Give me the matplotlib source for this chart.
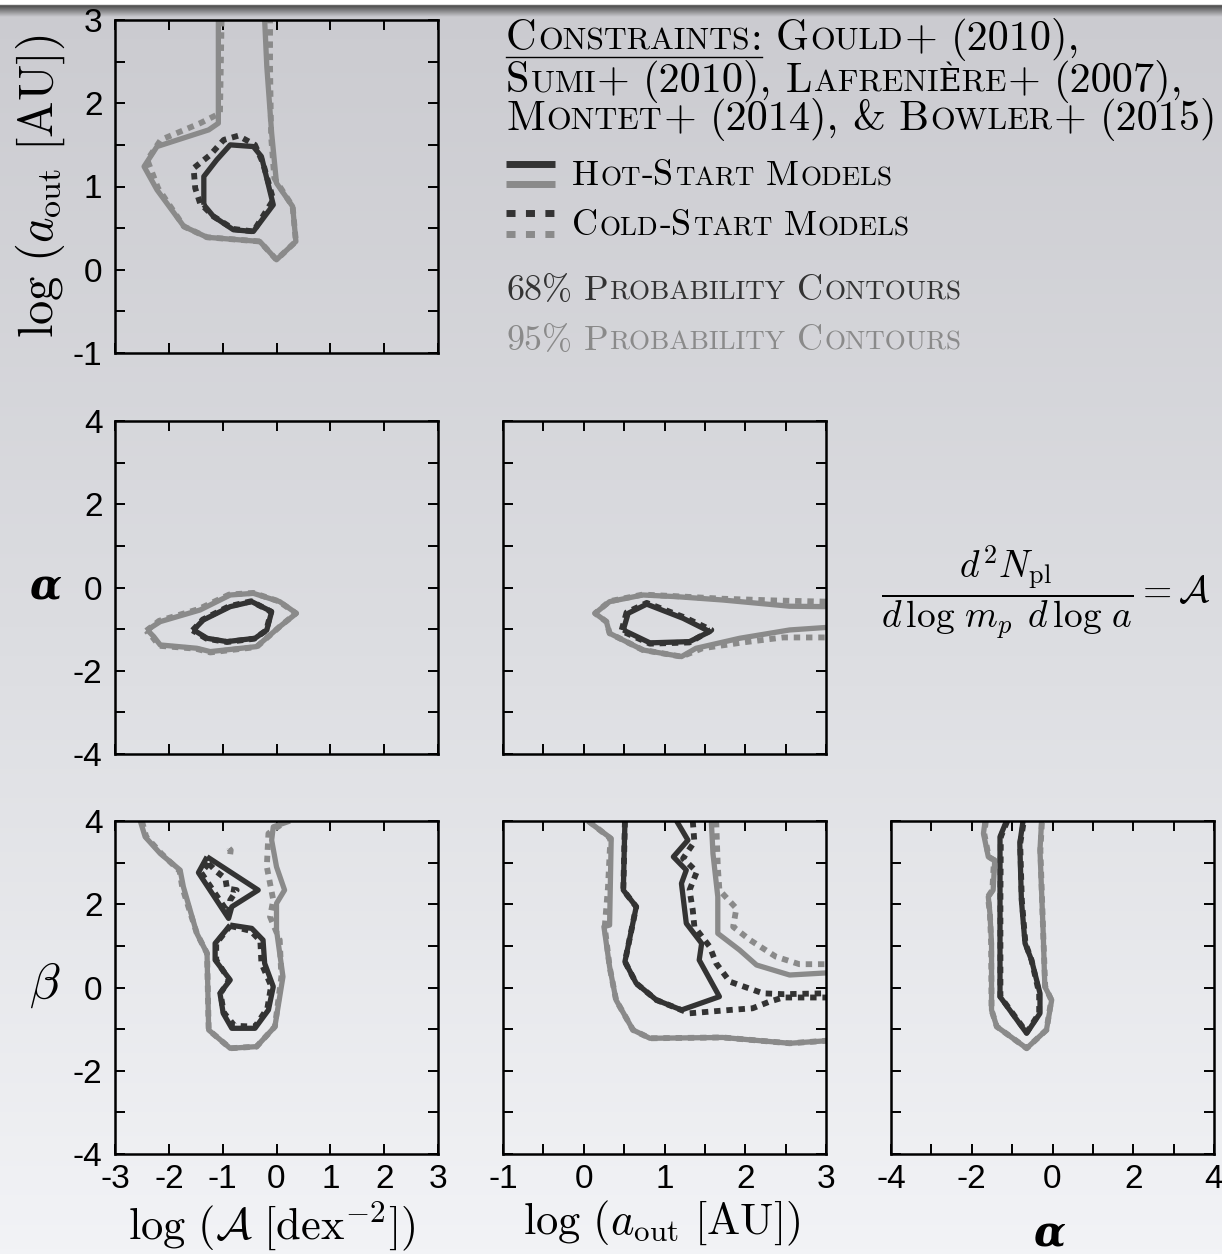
import numpy as np
import matplotlib
matplotlib.use("Agg")
import matplotlib.pyplot as plt
from matplotlib.colors import LinearSegmentedColormap

plt.rcParams.update({
    "font.family": ["Liberation Sans", "DejaVu Sans"],
    "mathtext.fontset": "cm",
    "axes.linewidth": 1.8,
    "xtick.direction": "in",
    "ytick.direction": "in",
    "xtick.top": True,
    "ytick.right": True,
    "xtick.major.size": 7,
    "ytick.major.size": 7,
    "xtick.major.width": 1.4,
    "ytick.major.width": 1.4,
    "xtick.major.pad": 7,
    "ytick.major.pad": 9,
    "xtick.labelsize": 24,
    "ytick.labelsize": 24,
})

W, H = 1222, 1254
DARK = "#333333"
GRAY = "#8a8a8a"
SERIF = ["cmr10", "DejaVu Serif"]

# ---- contour data ----
# log A vs log a_out
AAOUT_HOT95_X = [-1.08, -1.08, -1.26, -2.22, -2.46, -2.22, -1.72, -1.29, -0.31, 0.00, 0.36, 0.30, 0.00, -0.09, -0.18, -0.22]
AAOUT_HOT95_Y = [3.00, 1.76, 1.68, 1.48, 1.24, 0.96, 0.52, 0.39, 0.34, 0.12, 0.34, 0.76, 1.04, 1.64, 2.44, 3.00]
AAOUT_COLD95_X = [-1.02, -1.05, -1.42, -2.15, -2.40, -2.20, -1.72, -1.29, -0.31, 0.00, 0.36, 0.30, -0.04, -0.10, -0.12, -0.12]
AAOUT_COLD95_Y = [3.00, 1.88, 1.76, 1.56, 1.32, 0.98, 0.52, 0.39, 0.34, 0.12, 0.34, 0.76, 1.10, 1.60, 2.44, 3.00]
AAOUT_HOT68_X = [-1.35, -1.17, -0.80, -0.43, -0.06, -0.28, -0.43, -0.86, -1.11, -1.35, -1.35]
AAOUT_HOT68_Y = [0.78, 0.64, 0.48, 0.46, 0.78, 1.36, 1.48, 1.50, 1.32, 1.12, 0.78]
AAOUT_COLD68_X = [-1.42, -1.51, -1.54, -1.23, -0.98, -0.71, -0.40, -0.25, -0.06, -0.43, -0.80, -1.17, -1.42]
AAOUT_COLD68_Y = [0.80, 0.98, 1.22, 1.38, 1.56, 1.61, 1.50, 1.28, 0.84, 0.46, 0.49, 0.64, 0.80]

# log A vs alpha
AALPHA_HOT95_X = [-2.40, -2.16, -1.42, -0.86, -0.43, 0.06, 0.37, 0.06, -0.37, -1.23, -1.48, -2.16, -2.28, -2.40]
AALPHA_HOT95_Y = [-1.02, -0.82, -0.54, -0.18, -0.14, -0.34, -0.62, -0.94, -1.42, -1.54, -1.46, -1.38, -1.18, -1.02]
AALPHA_COLD95_X = [-2.42, -2.18, -1.45, -0.88, -0.43, 0.04, 0.36, 0.06, -0.37, -1.23, -1.50, -2.18, -2.30, -2.42]
AALPHA_COLD95_Y = [-1.04, -0.80, -0.52, -0.17, -0.13, -0.33, -0.62, -0.94, -1.43, -1.56, -1.47, -1.40, -1.20, -1.04]
AALPHA_HOT68_X = [-1.54, -1.36, -0.86, -0.46, -0.09, -0.18, -0.40, -0.92, -1.29, -1.54]
AALPHA_HOT68_Y = [-1.02, -0.78, -0.46, -0.34, -0.58, -1.02, -1.22, -1.30, -1.22, -1.02]
AALPHA_COLD68_X = [-1.56, -1.37, -0.88, -0.47, -0.10, -0.19, -0.41, -0.92, -1.30, -1.56]
AALPHA_COLD68_Y = [-1.03, -0.77, -0.45, -0.33, -0.58, -1.03, -1.23, -1.31, -1.23, -1.03]

# log a_out vs alpha
OALPHA_HOT95_X = [3.00, 2.55, 1.72, 1.15, 0.73, 0.32, 0.14, 0.28, 0.32, 0.73, 1.21, 1.39, 1.93, 2.55, 3.00]
OALPHA_HOT95_Y = [-0.46, -0.45, -0.30, -0.22, -0.18, -0.34, -0.62, -0.82, -1.10, -1.50, -1.66, -1.46, -1.22, -1.02, -0.96]
OALPHA_COLD95_X = [3.00, 2.34, 1.72, 1.15, 0.73, 0.32, 0.14, 0.28, 0.32, 0.73, 1.21, 1.47, 1.97, 2.47, 3.00]
OALPHA_COLD95_Y = [-0.34, -0.31, -0.27, -0.21, -0.17, -0.33, -0.62, -0.82, -1.10, -1.50, -1.66, -1.46, -1.32, -1.20, -1.20]
OALPHA_HOT68_X = [0.49, 0.55, 0.78, 1.23, 1.56, 1.31, 0.82, 0.53, 0.49]
OALPHA_HOT68_Y = [-1.02, -0.62, -0.40, -0.74, -1.06, -1.30, -1.33, -1.06, -1.02]
OALPHA_COLD68_X = [0.47, 0.53, 0.78, 1.25, 1.58, 1.31, 0.82, 0.51, 0.47]
OALPHA_COLD68_Y = [-1.02, -0.60, -0.37, -0.72, -1.02, -1.32, -1.35, -1.08, -1.02]

# log A vs beta
ABETA_HOT95_X = [-2.53, -2.44, -2.16, -1.79, -1.73, -1.48, -1.29, -1.26, -0.86, -0.37, -0.03, 0.12, 0.00, 0.00, 0.15, 0.00, -0.09, -0.06, 0.25]
ABETA_HOT95_Y = [4.00, 3.62, 3.22, 2.82, 2.42, 1.30, 0.82, -1.02, -1.46, -1.42, -0.94, 0.26, 1.38, 2.02, 2.34, 2.90, 3.54, 3.86, 4.00]
ABETA_COLD95_X = [-2.50, -2.42, -2.14, -1.80, -1.75, -1.48, -1.29, -1.26, -0.86, -0.37, -0.03, 0.09, 0.06, -0.12, -0.06, -0.18, -0.15, 0.18]
ABETA_COLD95_Y = [4.00, 3.62, 3.22, 2.80, 2.40, 1.30, 0.82, -1.02, -1.46, -1.42, -0.94, 0.26, 1.14, 1.70, 2.10, 2.90, 3.70, 4.00]
ABETA_COLD95B_X = [-0.88, -0.85, -0.86, -0.88]
ABETA_COLD95B_Y = [3.34, 3.30, 3.20, 3.34]
ABETA_HOT68A_X = [-1.29, -1.45, -0.89, -0.83, -0.34, -1.29]
ABETA_HOT68A_Y = [3.14, 2.76, 1.66, 1.94, 2.34, 3.14]
ABETA_HOT68B_X = [-0.86, -0.46, -0.25, -0.22, -0.06, -0.15, -0.40, -0.83, -0.99, -1.05, -0.86, -1.14, -1.14, -0.86]
ABETA_HOT68B_Y = [1.50, 1.42, 1.14, 0.58, 0.02, -0.54, -0.98, -0.98, -0.62, -0.14, 0.18, 0.66, 1.06, 1.50]
ABETA_COLD68A_X = [-1.26, -1.11, -0.95, -0.92, -0.74, -0.86, -0.89, -1.40, -1.26]
ABETA_COLD68A_Y = [2.98, 2.78, 2.62, 2.38, 2.34, 2.10, 1.78, 2.76, 2.98]
ABETA_COLD68B_X = [-0.86, -0.48, -0.30, -0.28, -0.10, -0.17, -0.40, -0.78, -0.98, -1.04, -0.88, -1.12, -1.12, -0.86]
ABETA_COLD68B_Y = [1.48, 1.36, 1.12, 0.58, 0.04, -0.50, -0.94, -0.92, -0.60, -0.14, 0.18, 0.66, 1.06, 1.48]

# log a_out vs beta
OBETA_HOT95A_X = [0.05, 0.34, 0.32, 0.25, 0.32, 0.40, 0.61, 0.82, 1.72, 2.55, 3.00]
OBETA_HOT95A_Y = [4.00, 3.58, 1.50, 1.46, 0.50, -0.30, -1.02, -1.22, -1.20, -1.34, -1.28]
OBETA_HOT95B_X = [1.58, 1.60, 1.66, 1.66, 1.93, 2.14, 2.55, 3.00]
OBETA_HOT95B_Y = [4.00, 3.22, 2.18, 1.30, 0.90, 0.54, 0.30, 0.35]
OBETA_COLD95A_X = [0.06, 0.33, 0.30, 0.26, 0.32, 0.40, 0.61, 0.82, 1.72, 2.55, 3.00]
OBETA_COLD95A_Y = [4.00, 3.58, 2.40, 1.46, 0.50, -0.30, -1.02, -1.22, -1.20, -1.34, -1.28]
OBETA_COLD95B_X = [1.64, 1.66, 1.68, 1.89, 1.85, 2.06, 2.38, 2.67, 3.00]
OBETA_COLD95B_Y = [4.00, 2.90, 2.34, 1.90, 1.46, 1.14, 0.74, 0.56, 0.56]
OBETA_HOT68_X = [0.51, 0.49, 0.65, 0.51, 0.65, 0.90, 1.21, 1.68, 1.43, 1.46, 1.27, 1.21, 1.27, 1.11, 1.29, 1.15]
OBETA_HOT68_Y = [4.00, 2.34, 1.94, 0.62, 0.10, -0.30, -0.54, -0.22, 0.66, 1.06, 1.54, 2.50, 2.82, 3.14, 3.54, 4.00]
OBETA_COLD68A_X = [1.35, 1.37, 1.23, 1.40, 1.31, 1.35, 1.37, 1.56, 1.64, 1.81, 2.22, 2.47, 3.00]
OBETA_COLD68A_Y = [4.00, 3.50, 3.10, 2.78, 2.34, 1.86, 1.46, 0.98, 0.58, 0.14, -0.14, -0.16, -0.14]
OBETA_COLD68B_X = [0.51, 0.49, 0.65, 0.51, 0.65, 0.90, 1.31, 1.81, 2.09, 2.30, 2.47, 3.00]
OBETA_COLD68B_Y = [4.00, 2.34, 1.94, 0.62, 0.10, -0.30, -0.62, -0.54, -0.50, -0.34, -0.24, -0.24]

# alpha vs beta
ALBETA_HOT95_X = [-1.67, -1.71, -1.59, -1.43, -1.47, -1.59, -1.55, -1.51, -1.51, -1.38, -0.64, -0.15, -0.02, -0.19, -0.23, -0.31, -0.27]
ALBETA_HOT95_Y = [4.00, 3.70, 3.14, 3.06, 2.34, 2.18, 1.78, 1.06, -0.54, -0.94, -1.46, -1.02, -0.30, 0.02, 1.30, 3.30, 4.00]
ALBETA_COLD95_X = [-1.65, -1.69, -1.58, -1.45, -1.49, -1.60, -1.55, -1.52, -1.51, -1.38, -0.64, -0.15, -0.03, -0.18, -0.23, -0.30, -0.26]
ALBETA_COLD95_Y = [4.00, 3.70, 3.14, 3.06, 2.34, 2.18, 1.78, 1.06, -0.54, -0.94, -1.46, -1.02, -0.30, 0.02, 1.30, 3.30, 4.00]
ALBETA_HOT68_X = [-1.14, -1.30, -1.30, -1.30, -0.64, -0.31, -0.31, -0.52, -0.68, -0.77, -0.81, -0.73]
ALBETA_HOT68_Y = [4.00, 3.62, 2.10, -0.22, -1.10, -0.62, -0.14, 0.66, 1.06, 2.10, 3.46, 4.00]
ALBETA_COLD68_X = [-1.12, -1.28, -1.29, -1.29, -0.64, -0.33, -0.33, -0.52, -0.67, -0.76, -0.80, -0.71]
ALBETA_COLD68_Y = [4.00, 3.62, 2.10, -0.22, -1.08, -0.62, -0.14, 0.66, 1.06, 2.10, 3.46, 4.00]

# ---- layout (pixels) ----
PW, PH = 323, 333
COLS = [115, 503, 891]
ROWS = [20, 421, 821]

fig = plt.figure(figsize=(W / 100, H / 100), dpi=100)

# background gradient
bg = fig.add_axes([0, 0, 1, 1], zorder=-10)
bg_cmap = LinearSegmentedColormap.from_list("bg", ["#cbcbd0", "#dcdde1", "#f2f3f6"])
bg.imshow(np.linspace(0, 1, 256)[:, None], aspect="auto", cmap=bg_cmap, extent=[0, 1, 0, 1])
bg.axis("off")
band = fig.add_axes([0, 1 - 17 / H, 1, 17 / H], zorder=-9)
band_cmap = LinearSegmentedColormap.from_list(
    "band", [(0, "#ffffff"), (0.26, "#ffffff"), (0.32, "#4a4a4a"), (1, "#cbcbd0")])
band.imshow(np.linspace(0, 1, 64)[:, None], aspect="auto", cmap=band_cmap, extent=[0, 1, 0, 1])
band.axis("off")

ALPHA_KW = dict(family=["DejaVu Serif"], fontweight="bold", fontstyle="italic", fontsize=30)


def tick_labels(ticks, every, show):
    if not show:
        return [""] * len(ticks)
    return [f"{v:g}" if v % every == 0 else "" for v in ticks]


def panel(col, row, xlim, ylim, xstep, ystep, xevery, yevery):
    l, t = COLS[col], ROWS[row]
    ax = fig.add_axes([l / W, 1 - (t + PH) / H, PW / W, PH / H])
    ax.patch.set_alpha(0)
    xt = np.arange(xlim[0], xlim[1] + 1e-9, xstep)
    yt = np.arange(ylim[0], ylim[1] + 1e-9, ystep)
    ax.set_xticks(xt)
    ax.set_yticks(yt)
    ax.set_xticklabels(tick_labels(xt, xevery, row == 2))
    ax.set_yticklabels(tick_labels(yt, yevery, col == 0))
    ax.set_xlim(xlim)
    ax.set_ylim(ylim)
    return ax


def draw(ax, x, y, color, dotted=False):
    if dotted:
        ax.plot(x, y, color=color, lw=4.2, ls=(0, (1.1, 1.0)), dash_capstyle="butt")
    else:
        ax.plot(x, y, color=color, lw=3.8, solid_joinstyle="round", solid_capstyle="butt")


ax_tl = panel(0, 0, (-3, 3), (-1, 3), 1, 0.5, 1, 1)
draw(ax_tl, AAOUT_COLD95_X, AAOUT_COLD95_Y, GRAY, True)
draw(ax_tl, AAOUT_HOT95_X, AAOUT_HOT95_Y, GRAY)
draw(ax_tl, AAOUT_COLD68_X, AAOUT_COLD68_Y, DARK, True)
draw(ax_tl, AAOUT_HOT68_X, AAOUT_HOT68_Y, DARK)
ax_tl.set_ylabel(r"$\log\,(a_{\rm out}\ [\rm AU])$", fontsize=35)
ax_tl.yaxis.set_label_coords(-0.15, 0.5)

ax_ml = panel(0, 1, (-3, 3), (-4, 4), 1, 1, 1, 2)
draw(ax_ml, AALPHA_COLD95_X, AALPHA_COLD95_Y, GRAY, True)
draw(ax_ml, AALPHA_HOT95_X, AALPHA_HOT95_Y, GRAY)
draw(ax_ml, AALPHA_COLD68_X, AALPHA_COLD68_Y, DARK, True)
draw(ax_ml, AALPHA_HOT68_X, AALPHA_HOT68_Y, DARK)
ax_ml.set_ylabel("α", rotation=0, ha="center", va="center", **ALPHA_KW)
ax_ml.yaxis.set_label_coords(-0.217, 0.5)

ax_mm = panel(1, 1, (-1, 3), (-4, 4), 0.5, 1, 1, 2)
draw(ax_mm, OALPHA_COLD95_X, OALPHA_COLD95_Y, GRAY, True)
draw(ax_mm, OALPHA_HOT95_X, OALPHA_HOT95_Y, GRAY)
draw(ax_mm, OALPHA_COLD68_X, OALPHA_COLD68_Y, DARK, True)
draw(ax_mm, OALPHA_HOT68_X, OALPHA_HOT68_Y, DARK)

ax_bl = panel(0, 2, (-3, 3), (-4, 4), 1, 1, 1, 2)
draw(ax_bl, ABETA_COLD95_X, ABETA_COLD95_Y, GRAY, True)
draw(ax_bl, ABETA_COLD95B_X, ABETA_COLD95B_Y, GRAY, True)
draw(ax_bl, ABETA_HOT95_X, ABETA_HOT95_Y, GRAY)
draw(ax_bl, ABETA_COLD68A_X, ABETA_COLD68A_Y, DARK, True)
draw(ax_bl, ABETA_COLD68B_X, ABETA_COLD68B_Y, DARK, True)
draw(ax_bl, ABETA_HOT68A_X, ABETA_HOT68A_Y, DARK)
draw(ax_bl, ABETA_HOT68B_X, ABETA_HOT68B_Y, DARK)
ax_bl.set_ylabel(r"$\beta$", fontsize=36, rotation=0, ha="center", va="center")
ax_bl.yaxis.set_label_coords(-0.217, 0.507)
ax_bl.set_xlabel(r"$\log\,(\mathcal{A}\ [\mathrm{dex}^{-2}])$", fontsize=32)
ax_bl.xaxis.set_label_coords(0.486, -0.135)

ax_bm = panel(1, 2, (-1, 3), (-4, 4), 0.5, 1, 1, 2)
draw(ax_bm, OBETA_COLD95A_X, OBETA_COLD95A_Y, GRAY, True)
draw(ax_bm, OBETA_COLD95B_X, OBETA_COLD95B_Y, GRAY, True)
draw(ax_bm, OBETA_HOT95A_X, OBETA_HOT95A_Y, GRAY)
draw(ax_bm, OBETA_HOT95B_X, OBETA_HOT95B_Y, GRAY)
draw(ax_bm, OBETA_COLD68A_X, OBETA_COLD68A_Y, DARK, True)
draw(ax_bm, OBETA_COLD68B_X, OBETA_COLD68B_Y, DARK, True)
draw(ax_bm, OBETA_HOT68_X, OBETA_HOT68_Y, DARK)
ax_bm.set_xlabel(r"$\log\,(a_{\rm out}\ [\rm AU])$", fontsize=32)
ax_bm.xaxis.set_label_coords(0.49, -0.135)

ax_br = panel(2, 2, (-4, 4), (-4, 4), 1, 1, 2, 2)
draw(ax_br, ALBETA_COLD95_X, ALBETA_COLD95_Y, GRAY, True)
draw(ax_br, ALBETA_HOT95_X, ALBETA_HOT95_Y, GRAY)
draw(ax_br, ALBETA_COLD68_X, ALBETA_COLD68_Y, DARK, True)
draw(ax_br, ALBETA_HOT68_X, ALBETA_HOT68_Y, DARK)
ax_br.set_xlabel("α", va="center", **ALPHA_KW)
ax_br.xaxis.set_label_coords(0.49, -0.24)

# ---- overlay in pixel coordinates: legend text and formula ----
ov = fig.add_axes([0, 0, 1, 1], zorder=5)
ov.set_xlim(0, W)
ov.set_ylim(H, 0)
ov.axis("off")
renderer = fig.canvas.get_renderer()


def small_caps(x, y, s, size, color, ratio=0.75):
    px = size * 100 / 72
    runs = []
    for ch in s:
        kind = None if ch == " " else ch.islower()
        if runs and kind is not None and runs[-1][1] == kind:
            runs[-1][0] += ch.upper()
        else:
            runs.append([ch.upper(), kind])
    for txt, kind in runs:
        if kind is None:
            x += 0.28 * px
            continue
        t = ov.text(x, y, txt, fontsize=size * ratio if kind else size, color=color,
                    family=SERIF, ha="left", va="baseline")
        x += t.get_window_extent(renderer).width + 0.035 * px
    return x


x_end = small_caps(506, 50, "Constraints:", 30.5, "black")
ov.plot([506, x_end - 2], [57, 57], color="black", lw=1.0)
small_caps(x_end, 50, " Gould+ (2010),", 30.5, "black")
small_caps(506, 92, "Sumi+ (2010), Lafrenière+ (2007),", 30.5, "black")
small_caps(506, 130, "Montet+ (2014), & Bowler+ (2015)", 30.5, "black")

ov.plot([506, 555], [163.5, 163.5], color=DARK, lw=5, solid_capstyle="butt")
ov.plot([506, 555], [183.5, 183.5], color=GRAY, lw=5, solid_capstyle="butt")
ov.plot([506, 555], [212.5, 212.5], color=DARK, lw=5, ls=(0, (1.3, 1.5)), dash_capstyle="butt")
ov.plot([506, 555], [233.5, 233.5], color=GRAY, lw=5, ls=(0, (1.3, 1.5)), dash_capstyle="butt")
small_caps(572, 185, "Hot-Start Models", 26, "black")
small_caps(572, 235, "Cold-Start Models", 26, "black")
small_caps(506, 300, "68% Probability Contours", 26, DARK)
small_caps(506, 350, "95% Probability Contours", 26, GRAY)

ov.text(1046, 593, r"$\dfrac{d^2 N_{\rm pl}}{d\,\log\,m_p\;\,d\,\log\,a} = \mathcal{A}$",
        fontsize=27, ha="center", va="center", color="black")

fig.savefig("out.png", dpi=100)
